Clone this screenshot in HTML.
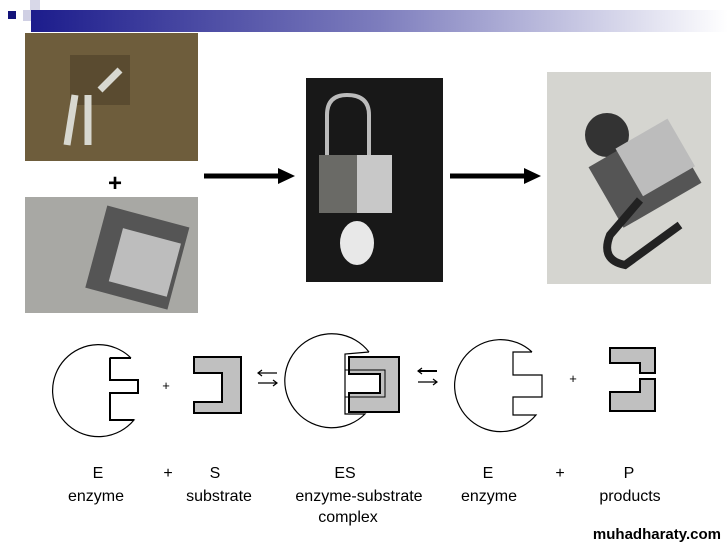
<!DOCTYPE html>
<html><head><meta charset="utf-8"><style>
html,body{margin:0;padding:0;background:#fff;width:728px;height:546px;overflow:hidden}
svg{display:block}
text{font-family:"Liberation Sans",sans-serif}
</style></head><body>
<svg width="728" height="546" viewBox="0 0 728 546" xmlns="http://www.w3.org/2000/svg">
<defs>
<linearGradient id="bar" x1="0" x2="1" y1="0" y2="0">
<stop offset="0" stop-color="#1c1c8c"/><stop offset="0.5" stop-color="#7d7dbd"/><stop offset="1" stop-color="#ffffff"/>
</linearGradient>
</defs>
<rect x="30" y="0" width="10" height="12" fill="#d8d8e8"/>
<rect x="8" y="11" width="8" height="8" fill="#13137a"/>
<rect x="23" y="10" width="10" height="11" fill="#d0d0e4"/>
<rect x="31" y="10" width="697" height="22" fill="url(#bar)"/>

<rect x="25" y="33" width="173" height="128" fill="#6e5d3c"/>
<rect x="70" y="55" width="60" height="50" fill="#4c3f28" opacity="0.6"/>
<path d="M75 95 l-8 50 M88 95 l0 50 M100 90 l20 -20" stroke="#d8d8d0" stroke-width="7"/>
<rect x="25" y="197" width="173" height="116" fill="#a8a8a4"/>
<rect x="95" y="215" width="85" height="85" fill="#555" transform="rotate(15 137 257)"/>
<rect x="115" y="235" width="60" height="55" fill="#bdbdbd" transform="rotate(15 145 262)"/>

<rect x="306" y="78" width="137" height="204" fill="#181818"/>
<path d="M327 157 V115 Q327 95 347 95 Q369 95 369 115 V157" fill="none" stroke="#bbb" stroke-width="4"/>
<rect x="319" y="155" width="73" height="58" fill="#6a6a66"/>
<rect x="357" y="155" width="35" height="58" fill="#c8c8c8"/>
<ellipse cx="357" cy="243" rx="17" ry="22" fill="#e8e8e8"/>

<rect x="547" y="72" width="164" height="212" fill="#d5d5d0"/>
<circle cx="607" cy="135" r="22" fill="#333"/>
<rect x="600" y="140" width="90" height="70" fill="#555" transform="rotate(-30 645 175)"/>
<rect x="625" y="130" width="60" height="55" fill="#bcbcbc" transform="rotate(-30 655 157)"/>
<path d="M640 200 L610 235 Q600 260 625 265 L680 225" fill="none" stroke="#222" stroke-width="8"/>

<text x="115" y="191" font-size="24" font-weight="bold" text-anchor="middle">+</text>
<line x1="204" y1="176" x2="280" y2="176" stroke="#000" stroke-width="5"/>
<polygon points="278,168 295,176 278,184" fill="#000"/>
<line x1="450" y1="176" x2="526" y2="176" stroke="#000" stroke-width="5"/>
<polygon points="524,168 541,176 524,184" fill="#000"/>

<g fill="none" stroke="#000" stroke-width="1.2">
<path d="M131 358 L110 358 L110 380 L138 380 L138 393 L110 393 L110 420 L134 420 A46 46 0 1 1 131 358"/>
<path d="M110 358 L131 358 M110 358 V380 H138 V393 H110 V420 H134" stroke-width="2"/>
<path d="M194 357 H241 V413 H194 V402 H222 V373 H194 Z" fill="#c0c0c0" stroke-width="2"/>
<path d="M369 352 L345 354 L345 414 L365 414 A47 47 0 1 1 369 352"/>
<path d="M349 357 H399 V412 H349 V393 H380 V374 H349 Z" fill="#c0c0c0" stroke-width="2"/>
<path d="M345 354 V414 M345 370 H385 V397 H345" stroke-width="1"/>
<path d="M532 352 L513 352 L513 375 L542 375 L542 397 L513 397 L513 415 L536 415 A46 46 0 1 1 532 352"/>
<path d="M610 348 H655 V373 H640 V363 H610 Z" fill="#c0c0c0" stroke-width="2"/>
<path d="M610 392 H640 V379 H655 V411 H610 Z" fill="#c0c0c0" stroke-width="2"/>
</g>
<text x="166" y="390" font-size="13" text-anchor="middle">+</text>
<text x="573" y="383" font-size="13" text-anchor="middle">+</text>
<g stroke="#000" stroke-width="1.2">
<line x1="258" y1="373" x2="277" y2="373"/><polyline points="262,370 258,373 262,376" fill="none"/>
<line x1="258" y1="383" x2="277" y2="383"/><polyline points="273,380 277,383 273,386" fill="none"/>
<line x1="418" y1="371" x2="437" y2="371" stroke-width="2"/><polyline points="422,368 418,371 422,374" fill="none"/>
<line x1="418" y1="382" x2="437" y2="382"/><polyline points="433,379 437,382 433,385" fill="none"/>
</g>

<g font-size="16" fill="#000" text-anchor="middle">
<text x="98" y="478">E</text><text x="96" y="501">enzyme</text>
<text x="168" y="478">+</text>
<text x="215" y="478">S</text><text x="219" y="501">substrate</text>
<text x="345" y="478">ES</text><text x="359" y="501">enzyme-substrate</text><text x="348" y="522">complex</text>
<text x="488" y="478">E</text><text x="489" y="501">enzyme</text>
<text x="560" y="478">+</text>
<text x="629" y="478">P</text><text x="630" y="501">products</text>
</g>
<text x="721" y="539" font-size="15" font-weight="bold" text-anchor="end">muhadharaty.com</text>
</svg>
</body></html>
